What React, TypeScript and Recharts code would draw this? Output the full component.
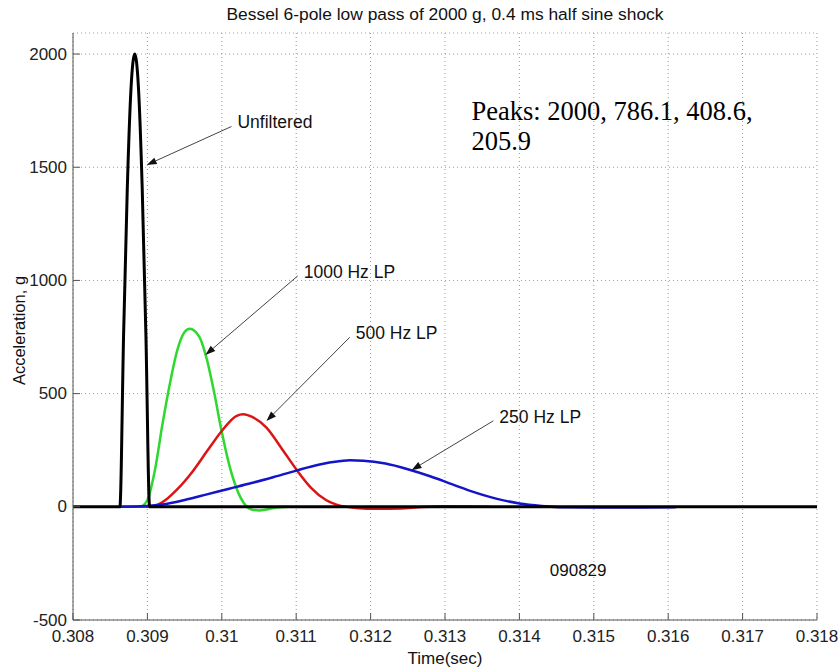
import React from "react";
import { LineChart, Line, XAxis, YAxis, CartesianGrid, ReferenceLine, ReferenceDot } from "recharts";

// time axis (sec) and acceleration (g)
const xTicks = [0.308, 0.309, 0.31, 0.311, 0.312, 0.313, 0.314, 0.315, 0.316, 0.317, 0.318];
const yTicks = [-500, 0, 500, 1000, 1500, 2000];

const rawT = [0.308, 0.30863, 0.30868, 0.30873, 0.30878, 0.30883, 0.30888, 0.30893, 0.30898, 0.30903, 0.318];
const rawV = [0, 0, 760, 1410, 1850, 2000, 1850, 1410, 760, 0, 0];

const lp1000T = [0.30863, 0.3089, 0.309, 0.3091, 0.3092, 0.3093, 0.3094, 0.3095, 0.309568, 0.3097, 0.3098, 0.3099, 0.31, 0.3101, 0.3102, 0.3103, 0.3104, 0.3105, 0.3106, 0.3107, 0.3109];
const lp1000V = [0, 0, 30, 160, 360, 540, 690, 772, 786.1, 750, 650, 500, 330, 185, 80, 15, -12, -16, -12, -5, 0];

const lp500T = [0.30863, 0.309, 0.3092, 0.3094, 0.3096, 0.3098, 0.31, 0.3102, 0.31029, 0.3104, 0.3106, 0.3108, 0.311, 0.3112, 0.3114, 0.3116, 0.3118, 0.3121, 0.3124, 0.3127, 0.313, 0.3133, 0.3136];
const lp500V = [0, 0, 20, 77, 153, 245, 335, 402, 408.6, 398, 350, 260, 166, 84, 30, 4, -5, -9, -7, -1, 2, 1, 0];

const lp250T = [0.30863, 0.3089, 0.3092, 0.3095, 0.3098, 0.3101, 0.3104, 0.3107, 0.311, 0.3113, 0.3116, 0.31172, 0.3119, 0.3122, 0.3125, 0.3128, 0.3131, 0.3134, 0.3137, 0.314, 0.3143, 0.3146, 0.315, 0.3156, 0.3161];
const lp250V = [0, 2, 10, 30, 55, 80, 105, 132, 160, 186, 202, 205.9, 204, 191, 166, 135, 99, 64, 35, 15, 4, -2, -3, -3, -2];

// callouts: label, arrow start (t, g), arrow tip (t, g)
const noteLabels = ["Unfiltered", "1000 Hz LP", "500 Hz LP", "250 Hz LP"];
const noteFromT = [0.31013, 0.31102, 0.31172, 0.31365];
const noteFromV = [1680, 1020, 749, 380];
const noteToT = [0.30899, 0.30978, 0.3106, 0.31255];
const noteToV = [1510, 671, 379, 162];

const peaksLines = ["Peaks: 2000, 786.1, 408.6,", "205.9"];
const stamp = "090829";

const toPts = (ts: number[], vs: number[]) => ts.map((t, i) => ({ t, v: vs[i] }));

const SANS = "'Liberation Sans', Arial, sans-serif";
const FRAME = "#555";

const fmtX = (v: number) => String(Number(v.toFixed(3)));

function BottomTick({ x, y, payload }: any) {
  return (
    <g>
      <line x1={x} x2={x} y1={y} y2={y - 7} stroke={FRAME} />
      <text x={x} y={y + 16} textAnchor="middle" dominantBaseline="central" fontSize={17} fontFamily={SANS} fill="#222">
        {fmtX(payload.value)}
      </text>
    </g>
  );
}
function TopTick({ x, y }: any) {
  return <line x1={x} x2={x} y1={y} y2={y + 7} stroke={FRAME} />;
}
function LeftTick({ x, y, payload }: any) {
  return (
    <g>
      <line x1={x} x2={x + 7} y1={y} y2={y} stroke={FRAME} />
      <text x={x - 6} y={y} textAnchor="end" dominantBaseline="central" fontSize={17} fontFamily={SANS} fill="#222">
        {payload.value}
      </text>
    </g>
  );
}
function RightTick({ x, y }: any) {
  return <line x1={x} x2={x - 7} y1={y} y2={y} stroke={FRAME} />;
}

function arrowShape(label: string) {
  return (p: any) => {
    const { x1, y1, x2, y2 } = p;
    const a = Math.atan2(y2 - y1, x2 - x1);
    const L = 10, W = 3.5;
    const bx = x2 - L * Math.cos(a), by = y2 - L * Math.sin(a);
    const px = -Math.sin(a) * W, py = Math.cos(a) * W;
    return (
      <g>
        <line x1={x1} y1={y1} x2={bx} y2={by} stroke="#444" strokeWidth={1} />
        <polygon points={`${x2},${y2} ${bx + px},${by + py} ${bx - px},${by - py}`} fill="#111" />
        <text x={x1 + 6} y={y1 - 4} dominantBaseline="central" fontSize={17.5} fontFamily={SANS} fill="#111">{label}</text>
      </g>
    );
  };
}

export default function App() {
  return (
    <div style={{ position: "absolute", left: 0, top: 0, width: 839, height: 668, background: "#fff" }}>
      <div style={{ position: "absolute", left: 73, top: 4, width: 744, textAlign: "center", fontFamily: SANS, fontSize: 17.4, lineHeight: "20px", color: "#111" }}>
        Bessel 6-pole low pass of 2000 g, 0.4 ms half sine shock
      </div>
      <LineChart width={839} height={668} margin={{ top: 33, right: 22, left: 0, bottom: 0 }}>
        <CartesianGrid stroke="#9a9a9a" strokeDasharray="1 3" />
        <XAxis type="number" dataKey="t" domain={[0.308, 0.318]} ticks={xTicks} interval={0} allowDataOverflow
          height={48} tickSize={0} tickMargin={0} tickLine={false} axisLine={{ stroke: FRAME }} tick={<BottomTick />}
          label={{ content: (p: any) => (
            <text x={p.viewBox.x + p.viewBox.width / 2} y={p.viewBox.y + 38} textAnchor="middle" dominantBaseline="central" fontSize={17} fontFamily={SANS} fill="#111">Time(sec)</text>
          ) }} />
        <XAxis xAxisId="top" orientation="top" type="number" dataKey="t" domain={[0.308, 0.318]} ticks={xTicks} interval={0} allowDataOverflow
          height={0} tickSize={0} tickMargin={0} tickLine={false} axisLine={{ stroke: FRAME }} tick={<TopTick />} />
        <YAxis type="number" domain={[-500, 2093]} ticks={yTicks} interval={0} allowDataOverflow
          width={73} tickSize={0} tickMargin={0} tickLine={false} axisLine={{ stroke: FRAME }} tick={<LeftTick />}
          label={{ content: (p: any) => {
            const cx = p.viewBox.x + 19, cy = p.viewBox.y + p.viewBox.height / 2 + 4;
            return <text x={cx} y={cy} transform={`rotate(-90, ${cx}, ${cy})`} textAnchor="middle" dominantBaseline="central" fontSize={16.5} fontFamily={SANS} fill="#111">Acceleration, g</text>;
          } }} />
        <YAxis yAxisId="right" orientation="right" type="number" domain={[-500, 2093]} ticks={yTicks} interval={0} allowDataOverflow
          width={0} tickSize={0} tickMargin={0} tickLine={false} axisLine={{ stroke: FRAME }} tick={<RightTick />} />

        <Line data={toPts(lp1000T, lp1000V)} dataKey="v" type="monotone" stroke="#2fd82f" strokeWidth={2.5} dot={false} isAnimationActive={false} />
        <Line data={toPts(lp500T, lp500V)} dataKey="v" type="monotone" stroke="#dc1414" strokeWidth={2.5} dot={false} isAnimationActive={false} />
        <Line data={toPts(lp250T, lp250V)} dataKey="v" type="monotone" stroke="#1414c8" strokeWidth={2.5} dot={false} isAnimationActive={false} />
        <Line data={toPts(rawT, rawV)} dataKey="v" type="monotone" stroke="#000" strokeWidth={3} dot={false} isAnimationActive={false} />

        {noteLabels.map((lab, i) => (
          <ReferenceLine key={lab}
            segment={[{ x: noteFromT[i], y: noteFromV[i] }, { x: noteToT[i], y: noteToV[i] }]}
            shape={arrowShape(lab)} />
        ))}
        <ReferenceDot x={0.31479} y={-280} r={0}
          shape={(p: any) => (
            <text x={p.cx} y={p.cy} textAnchor="middle" dominantBaseline="central" fontSize={17} fontFamily={SANS} fill="#111">{stamp}</text>
          )} />
        <ReferenceDot x={0.313355} y={1709} r={0}
          shape={(p: any) => (
            <text x={p.cx} y={p.cy} fontSize={26.5} fontFamily="'Liberation Serif', 'Times New Roman', serif" fill="#000">
              <tspan x={p.cx}>{peaksLines[0]}</tspan>
              <tspan x={p.cx} dy={30}>{peaksLines[1]}</tspan>
            </text>
          )} />
      </LineChart>
    </div>
  );
}
